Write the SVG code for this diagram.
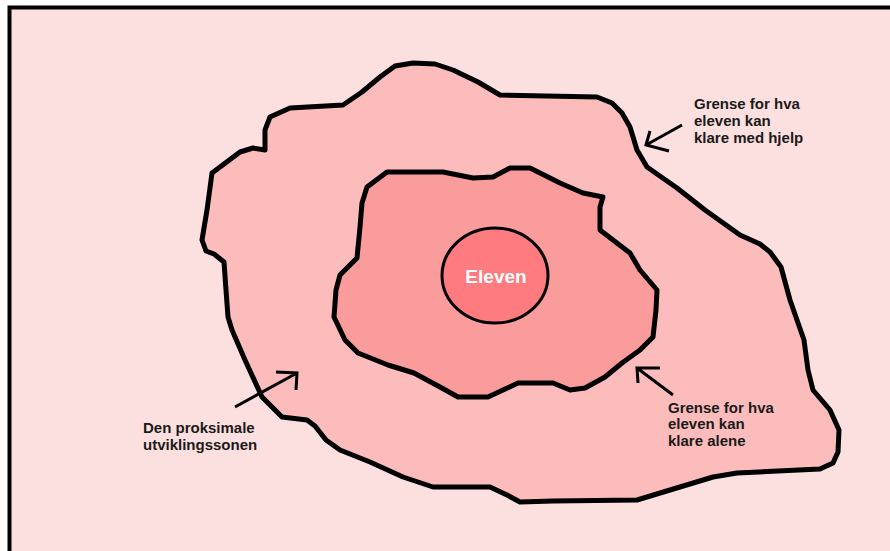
<svg xmlns="http://www.w3.org/2000/svg" width="890" height="551" viewBox="0 0 890 551">
<style>
.blob{stroke:#000;stroke-width:5;stroke-linejoin:round;stroke-linecap:round}
.lbl{font-family:"Liberation Sans",Arial,sans-serif;font-size:15px;font-weight:bold;fill:#1a1a1a}
.arr{fill:none;stroke:#000;stroke-width:3;stroke-linecap:butt;stroke-linejoin:miter}
</style>
<rect x="0" y="0" width="890" height="551" fill="#ffffff"/>
<rect x="9.5" y="7.5" width="900" height="600" fill="#FCDFDF" stroke="#000" stroke-width="4"/>
<g id="outer">
<path class="blob" fill="#FCBCBC" d="M413,63 L435,64 L453,70 L478,82 L500,95 L597,97 L612,103 L622,113 L630,127 L637,150 L647,167 L677,188 L705,210 L740,235 L760,244 L770,252 L781,267 L790,300 L804,340 L808,370 L813,390 L830,410 L839,430 L838,452 L833,463 L820,469 L737,473 L713,477 L670,490 L637,500 L553,501 L520,502 L507,495 L490,487 L433,487 L403,477 L370,462 L340,450 L326,440 L315,426 L307,420 L282,417 L262,397 L245,360 L232,330 L228,317 L226,290 L224,262 L214,254 L206,251 L202,240 L207,210 L212,173 L240,152 L253,148 L265,150 L265,130 L270,117 L290,108 L343,105 L362,92 L380,77 L395,66 Z"/>
</g>
<g id="inner">
<path class="blob" fill="#FB9C9C" d="M362,203 L367,187 L387,172 L443,172 L473,178 L493,177 L510,168 L530,168 L560,183 L583,193 L603,197 L600,207 L600,230 L613,240 L630,253 L640,270 L657,290 L656,310 L653,337 L640,350 L622,363 L605,377 L585,388 L570,390 L553,383 L518,383 L488,397 L458,397 L440,387 L414,373 L388,365 L358,353 L345,340 L334,317 L336,290 L340,275 L357,258 L360,227 Z"/>
</g>
<g id="eleven">
<ellipse cx="495" cy="275.5" rx="53" ry="47.5" fill="#FE7B7F" stroke="#000" stroke-width="3"/>
<text x="496" y="283" text-anchor="middle" font-family="Liberation Sans, Arial, sans-serif" font-size="19" font-weight="bold" fill="#ffffff">Eleven</text>
</g>
<g id="label-hjelp">
<text class="lbl" x="694" y="109">Grense for hva</text>
<text class="lbl" x="694" y="126">eleven kan</text>
<text class="lbl" x="694" y="143">klare med hjelp</text>
</g>
<g id="label-alene">
<text class="lbl" x="668" y="413">Grense for hva</text>
<text class="lbl" x="668" y="429">eleven kan</text>
<text class="lbl" x="668" y="446">klare alene</text>
</g>
<g id="label-sone">
<text class="lbl" x="143" y="433">Den proksimale</text>
<text class="lbl" x="143" y="450">utviklingssonen</text>
</g>
<g id="connectors">
<path class="arr" d="M682,125 L646,145 M650,131 L646,145 L669,151"/>
<path class="arr" d="M235,407 L297,373 M276,372 L297,373 L296,390"/>
<path class="arr" d="M673,395 L637,368 M660,368 L637,368 L638,383"/>
</g>
</svg>
